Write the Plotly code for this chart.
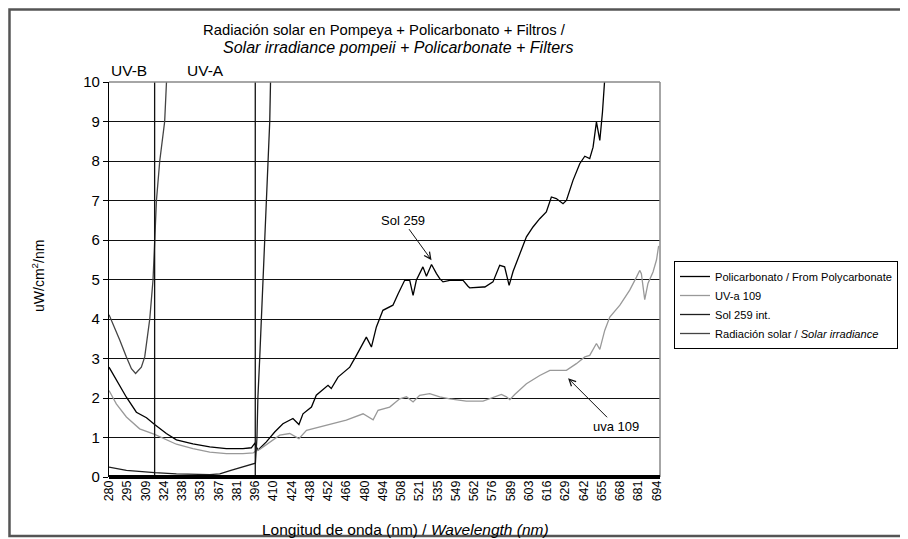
import numpy as np
import plotly.graph_objects as go

# ---------------- data ----------------
tick_wl = [280, 295, 309, 324, 338, 353, 367, 381, 396, 410, 424, 438, 452, 466, 480,
           494, 508, 521, 535, 549, 562, 576, 589, 603, 616, 629, 642, 655, 668, 681, 694]

poly_wl = [280, 286, 294.3, 302, 309.8, 316.5, 326, 333.7, 347, 360.3, 373, 386.1, 393, 395.7,
           398.2, 404.7, 411.1, 417.4, 425.1, 429.7, 432.8, 439.3, 443, 452, 454.5, 459.7,
           468.7, 473.8, 481.4, 485.3, 489.1, 494.1, 499.3, 501.8, 505.8, 510.6, 514.2, 516.6,
           518.9, 523.8, 526.5, 530.4, 534.2, 536.7, 539.2, 541.9, 544.4, 551.9, 554.2, 557.7,
           558.9, 568.9, 570.3, 576.5, 581.3, 584.8, 588, 591, 596, 601.2, 606, 610.8, 615.5,
           619.1, 622.6, 627.4, 629.8, 634.5, 639.3, 642.9, 646.4, 648.8, 651.2, 653.6, 655.5,
           657.1, 658.3]
poly_val = [2.78, 2.45, 2.02, 1.64, 1.5, 1.33, 1.1, 0.94, 0.84, 0.76, 0.72, 0.72, 0.74, 0.85,
            0.68, 0.89, 1.14, 1.35, 1.48, 1.33, 1.6, 1.77, 2.07, 2.32, 2.24, 2.53,
            2.78, 3.08, 3.54, 3.29, 3.80, 4.22, 4.3, 4.35, 4.64, 4.98, 4.98, 4.6,
            4.98, 5.32, 5.08, 5.38, 5.15, 5.02, 4.94, 4.96, 4.98, 4.98, 4.98, 4.83,
            4.79, 4.81, 4.81, 4.94, 5.36, 5.32, 4.85, 5.21, 5.65, 6.08, 6.33, 6.54, 6.71,
            7.09, 7.05, 6.92, 7.0, 7.51, 7.93, 8.12, 8.06, 8.35, 8.99, 8.52, 9.24,
            10.0, 10.7]

uva_wl = [280, 286, 294.3, 304.5, 316.5, 326, 333.7, 347, 360.3, 373, 386.1, 394.5, 396.7,
          399.6, 407.3, 415, 422.6, 429.7, 435.5, 445.7, 455.8, 466, 478.9, 486.6, 490.4,
          499.3, 507, 511.9, 516.6, 521.3, 529, 536.7, 544.4, 556.5, 568.9, 579, 582.5, 586.1,
          588.5, 592.2, 601.2, 610.8, 618, 629.8, 636.9, 642.9, 646.4, 651.2, 653.6, 657.1,
          660.7, 667.9, 674.9, 679.7, 682, 683.2, 685.6, 687.9, 691.5, 694, 695.5]
uva_val = [2.19, 1.85, 1.52, 1.22, 1.08, 0.94, 0.83, 0.72, 0.63, 0.59, 0.59, 0.61, 0.66,
           0.7, 0.89, 1.06, 1.1, 0.97, 1.18, 1.27, 1.35, 1.44, 1.6, 1.45, 1.69,
           1.77, 1.98, 2.03, 1.9, 2.07, 2.11, 2.03, 1.98, 1.92, 1.92, 2.03, 2.09, 2.03,
           1.96, 2.09, 2.36, 2.57, 2.7, 2.7, 2.87, 3.04, 3.08, 3.38, 3.23, 3.71,
           4.05, 4.35, 4.73, 5.06, 5.23, 5.15, 4.49, 4.9, 5.19, 5.5, 5.85]

sol_wl = [280, 294.3, 316.5, 333.7, 360.3, 368, 376.5, 387.6, 394.5, 396.3, 397.5, 398.2,
          399.6, 402.2, 403.3, 404.4, 405.9, 407.3, 407.9, 408.9]
sol_val = [0.25, 0.17, 0.11, 0.08, 0.06, 0.08, 0.17, 0.27, 0.32, 0.35, 1.0, 2.0,
           3.0, 5.0, 6.0, 7.0, 8.0, 9.0, 10.0, 12.0]

rad_wl = [280, 283.3, 288.9, 294.3, 298.2, 301.4, 305.8, 308.4, 310.2, 312.5, 315.2, 316.5,
          318, 320.7, 324.7, 326.1, 328.2]
rad_val = [4.11, 3.88, 3.46, 3.04, 2.74, 2.62, 2.78, 3.04, 3.46, 4.0, 5.0, 6.0,
           7.0, 8.0, 9.0, 10.0, 11.5]

uv_bounds = [316.5, 396.2]

names = ["Policarbonato / From Polycarbonate", "UV-a 109", "Sol 259 int.",
         "Radiación solar / <i>Solar irradiance</i>"]
colors = ["#000000", "#999999", "#1e1e1e", "#444444"]

FONT = "Arial, Liberation Sans, sans-serif"


def to_idx(wl):
    """Category-axis position of a wavelength (Excel-style evenly spaced labels)."""
    wl = np.asarray(wl, dtype=float)
    idx = np.interp(wl, tick_wl, np.arange(len(tick_wl)))
    hi = wl > tick_wl[-1]
    idx[hi] = len(tick_wl) - 1 + (wl[hi] - tick_wl[-1]) / 13.0
    return idx


fig = go.Figure()
series = [(poly_wl, poly_val), (uva_wl, uva_val), (sol_wl, sol_val), (rad_wl, rad_val)]
for (wl, v), nm, c in zip(series, names, colors):
    fig.add_trace(go.Scatter(x=to_idx(wl), y=v, mode="lines", name=nm,
                             line=dict(color=c, width=1.3)))

# UV band boundary lines
for b in uv_bounds:
    xb = float(to_idx([b])[0])
    fig.add_shape(type="line", x0=xb, x1=xb, y0=0, y1=10, xref="x", yref="y",
                  line=dict(color="#111", width=1.3), layer="above")

# plot frame: gray top/right, thick black baseline
fig.add_shape(type="line", xref="paper", yref="paper", x0=0, x1=1, y0=1, y1=1,
              line=dict(color="#888", width=1.5), layer="above")
fig.add_shape(type="line", xref="paper", yref="paper", x0=1, x1=1, y0=0, y1=1,
              line=dict(color="#888", width=1.5), layer="above")
fig.add_shape(type="line", xref="paper", yref="paper", x0=0, x1=1, y0=0, y1=0,
              line=dict(color="#000", width=4), layer="above")
# outer frame
fig.add_shape(type="rect", xref="paper", yref="paper", x0=-0.1806, x1=1.4446,
              y0=-0.1494, y1=1.1835, line=dict(color="#555", width=2.5))

annos = [
    dict(text="Radiación solar en Pompeya + Policarbonato + Filtros /",
         x=0.5, y=(477 - 30) / 395, xref="paper", yref="paper", showarrow=False,
         font=dict(size=14.8, family=FONT, color="#000"), xanchor="center", yanchor="middle"),
    dict(text="<i>Solar irradiance pompeii + Policarbonate + Filters</i>",
         x=(398 - 109) / 551, y=(477 - 48) / 395, xref="paper", yref="paper", showarrow=False,
         font=dict(size=16, family=FONT, color="#000"), xanchor="center", yanchor="middle"),
    dict(text="UV-B", x=(129 - 109) / 551, y=(477 - 70) / 395, xref="paper", yref="paper",
         showarrow=False, xanchor="center", yanchor="middle",
         font=dict(size=15.5, family=FONT, color="#000")),
    dict(text="UV-A", x=(205 - 109) / 551, y=(477 - 70) / 395, xref="paper", yref="paper",
         showarrow=False, xanchor="center", yanchor="middle",
         font=dict(size=15.5, family=FONT, color="#000")),
    dict(text="uW/cm<sup>2</sup>/nm", x=(38 - 109) / 551, y=(477 - 276) / 395,
         xref="paper", yref="paper", showarrow=False, textangle=-90,
         xanchor="center", yanchor="middle",
         font=dict(size=14, family=FONT, color="#000")),
    dict(text="Longitud de onda (nm) / <i>Wavelength (nm)</i>", x=(405.5 - 109) / 551,
         y=(477 - 529) / 395, xref="paper", yref="paper", showarrow=False,
         xanchor="center", yanchor="middle",
         font=dict(size=15.5, family=FONT, color="#000")),
    dict(text="Sol 259", x=float(to_idx([530.4])[0]), y=5.49, xref="x", yref="y",
         ax=-29, ay=-40, showarrow=True, arrowhead=5, arrowsize=1.3, arrowwidth=1,
         arrowcolor="#111", font=dict(size=13, family=FONT, color="#000")),
    dict(text="uva 109", x=float(to_idx([631])[0]), y=2.5, xref="x", yref="y",
         ax=48, ay=48, showarrow=True, arrowhead=5, arrowsize=1.3, arrowwidth=1,
         arrowcolor="#111", font=dict(size=13, family=FONT, color="#000")),
]

# the page body adds an 8 px offset, so the figure is 8 px smaller and margins shifted
fig.update_layout(
    width=900, height=531,
    margin=dict(l=101, r=248, t=74, b=62, autoexpand=False),
    paper_bgcolor="white", plot_bgcolor="white",
    font=dict(family=FONT, color="#000"),
    showlegend=True,
    legend=dict(x=(674 - 109) / 551, y=(477 - 261) / 395, xanchor="left", yanchor="top",
                bordercolor="#000", borderwidth=1, bgcolor="white",
                font=dict(size=11.1, family=FONT, color="#000"), tracegroupgap=0),
    annotations=annos,
    xaxis=dict(range=[0, 30.19], tickmode="array", tickvals=list(range(len(tick_wl))),
               ticktext=[str(t) for t in tick_wl], tickangle=-90, showgrid=False,
               zeroline=False, showline=False, ticks="",
               tickfont=dict(size=12.5, family=FONT, color="#000")),
    yaxis=dict(range=[0, 10], dtick=1, tick0=0, showgrid=True, gridcolor="#111",
               gridwidth=1.3, zeroline=False, showline=True, linecolor="#000",
               linewidth=1.3, ticks="outside", ticklen=5, tickcolor="#000",
               tickfont=dict(size=15, family=FONT, color="#000")),
)

fig.write_html("out.html")
